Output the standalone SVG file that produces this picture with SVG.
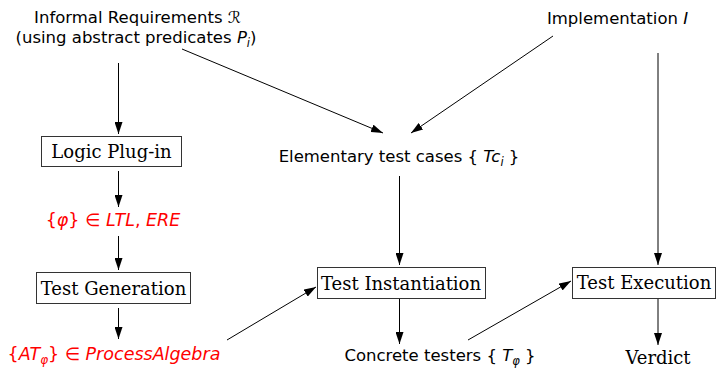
<svg xmlns="http://www.w3.org/2000/svg" width="716" height="368" viewBox="0 0 716 368">
<style>
.sans{font-family:"DejaVu Sans","Liberation Sans",sans-serif;font-size:16.5px;fill:#000}
.serif{font-family:"DejaVu Serif","Liberation Serif",serif;font-size:18px;fill:#000}
.red{fill:#ff0000;font-size:17.5px}
.it{font-style:italic}
.box{fill:#fff;stroke:#333;stroke-width:1}
.edge{stroke:#000;stroke-width:1;fill:none;marker-end:url(#ah)}
</style>
<defs>
<marker id="ah" viewBox="0 0 12 8" refX="12" refY="4" markerWidth="12" markerHeight="8" orient="auto" markerUnits="userSpaceOnUse">
<path d="M0,0 L12,4 L0,8 Z" fill="#000"/>
</marker>
</defs>
<rect width="716" height="368" fill="#fff"/>
<g id="connectors">
<line class="edge" x1="118.5" y1="63" x2="118.5" y2="134"/>
<line class="edge" x1="118.5" y1="171" x2="118.5" y2="207"/>
<line class="edge" x1="118.5" y1="236" x2="118.5" y2="270"/>
<line class="edge" x1="118.5" y1="308" x2="118.5" y2="339"/>
<line class="edge" x1="182" y1="49" x2="383" y2="133"/>
<line class="edge" x1="553" y1="36" x2="411" y2="133"/>
<line class="edge" x1="399.5" y1="176" x2="399.5" y2="265"/>
<line class="edge" x1="399.5" y1="299" x2="399.5" y2="344"/>
<line class="edge" x1="227" y1="340" x2="316" y2="287"/>
<line class="edge" x1="468" y1="340" x2="571" y2="281"/>
<line class="edge" x1="658" y1="53" x2="658" y2="265"/>
<line class="edge" x1="658" y1="299" x2="658" y2="345"/>
</g>
<g id="requirements">
<text class="sans" x="137.5" y="23" text-anchor="middle">Informal Requirements ℛ</text>
<text class="sans" x="136" y="43" text-anchor="middle">(using abstract predicates <tspan class="it">P</tspan><tspan class="it" font-size="11.5" dy="4">i</tspan><tspan dy="-4">)</tspan></text>
</g>
<g id="implementation">
<text class="sans" x="617.5" y="24" text-anchor="middle">Implementation <tspan class="it">I</tspan></text>
</g>
<g id="logic-plugin">
<rect class="box" x="41.5" y="136.5" width="140" height="30"/>
<text class="serif" x="111.5" y="158" text-anchor="middle">Logic Plug-in</text>
</g>
<g id="formulas">
<text class="sans red" x="113" y="226" text-anchor="middle">{<tspan class="it">φ</tspan>} ∈ <tspan class="it">LTL</tspan>, <tspan class="it">ERE</tspan></text>
</g>
<g id="test-generation">
<rect class="box" x="36.5" y="272.5" width="154" height="31"/>
<text class="serif" x="113.5" y="295" text-anchor="middle">Test Generation</text>
</g>
<g id="abstract-tests">
<text class="sans red" x="114" y="360" text-anchor="middle">{<tspan class="it">AT</tspan><tspan class="it" font-size="12" dy="4">φ</tspan><tspan dy="-4">} ∈ </tspan><tspan class="it">ProcessAlgebra</tspan></text>
</g>
<g id="elementary-test-cases">
<text class="sans" x="399" y="162" text-anchor="middle">Elementary test cases { <tspan class="it">Tc</tspan><tspan class="it" font-size="11.5" dy="4">i</tspan><tspan dy="-4"> }</tspan></text>
</g>
<g id="test-instantiation">
<rect class="box" x="317.5" y="267.5" width="168" height="31"/>
<text class="serif" x="401" y="290" text-anchor="middle">Test Instantiation</text>
</g>
<g id="concrete-testers">
<text class="sans" x="440" y="361" text-anchor="middle">Concrete testers { <tspan class="it">T</tspan><tspan class="it" font-size="11.5" dy="4">φ</tspan><tspan dy="-4"> }</tspan></text>
</g>
<g id="test-execution">
<rect class="box" x="572.5" y="267.5" width="143" height="31"/>
<text class="serif" x="644" y="289" text-anchor="middle">Test Execution</text>
</g>
<g id="verdict">
<text class="serif" x="658" y="364" text-anchor="middle">Verdict</text>
</g>
</svg>
